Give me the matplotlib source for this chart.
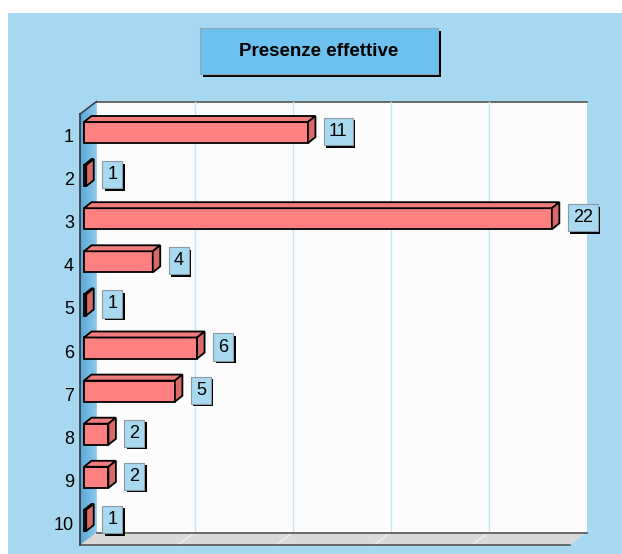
import matplotlib
matplotlib.use('Agg')
import matplotlib.pyplot as plt
from matplotlib.patches import Polygon, Rectangle
import matplotlib.transforms as mtransforms
import numpy as np

categories = ['1', '2', '3', '4', '5', '6', '7', '8', '9', '10']
values = [11, 1, 22, 4, 1, 6, 5, 2, 2, 1]
title = 'Presenze effettive'
x_min, x_max = 0.9, 23.0

plt.rcParams['font.family'] = ['Liberation Sans', 'DejaVu Sans']

W, H = 622, 554
fig = plt.figure(figsize=(W / 100, H / 100), dpi=100)
fig.patch.set_facecolor('white')

bg = fig.add_axes([0, 0, 1, 1])
bg.set_xlim(0, W)
bg.set_ylim(H, 0)
bg.axis('off')

def poly(pts, **kw):
    p = Polygon(pts, closed=True, **kw)
    bg.add_patch(p)
    return p

# outer background
bg.add_patch(Rectangle((8, 13), W - 8, H - 13, facecolor='#a8d8ef', edgecolor='none'))

# 3D frame geometry (front plane / back plane)
FX0, FX1, FY0, FY1 = 80, 570, 114, 545
DX, DY = 16.5, 12.5
BX0, BX1, BY0, BY1 = FX0 + DX, FX1 + DX, FY0 - DY, FY1 - DY

# back wall
poly([(BX0, BY0), (BX1, BY0), (BX1, BY1), (BX0, BY1)], facecolor='#fcfcfc', edgecolor='none')
bg.plot([BX0, BX1], [BY0, BY0], color='#555555', lw=1.2)
# floor
poly([(FX0, FY1), (FX1, FY1), (BX1, BY1), (BX0, BY1)], facecolor='#d9d9d9', edgecolor='none')
# gridlines
for k in range(1, 5):
    gx = BX0 + k * (BX1 - BX0) / 5
    bg.plot([gx, gx], [BY0, BY1], color='#c9e3f2', lw=1)
    bg.plot([gx, gx - DX], [BY1, FY1], color='#eeeeee', lw=1)
bg.plot([BX0, BX1], [BY1, BY1], color='#555555', lw=1.2)
bg.plot([FX0, FX1], [FY1, FY1], color='#555555', lw=1.2)
# left wall with gradient
wall = poly([(FX0, FY0), (BX0, BY0), (BX0, BY1), (FX0, FY1)], facecolor='none', edgecolor='none')
grad = np.linspace(0, 1, 64).reshape(1, -1)
c0 = np.array([0x58, 0xa6, 0xd6]) / 255
c1 = np.array([0x8e, 0xca, 0xeb]) / 255
img = c0[None, None, :] * (1 - grad[..., None]) + c1[None, None, :] * grad[..., None]
im = bg.imshow(img, extent=(FX0, BX0, FY1, BY0), aspect='auto', interpolation='bilinear', zorder=1)
im.set_clip_path(wall)
bg.plot([FX0, FX0], [FY0, FY1], color='#333333', lw=1.2, zorder=2)
bg.plot([FX0, BX0], [FY0, BY0], color='#333333', lw=1.0, zorder=2)
bg.set_xlim(0, W)
bg.set_ylim(H, 0)

# title box
bg.add_patch(Rectangle((203, 31), 238, 46, facecolor='black', edgecolor='none', zorder=2))
bg.add_patch(Rectangle((200, 28), 238, 46, facecolor='#6ec0ee', edgecolor='#8aa9bb', lw=0.8, zorder=2))
bg.text(319, 51, title, ha='center', va='center', fontsize=13.5, fontweight='bold', color='black', zorder=3)

# data axes in the front plane
ax = fig.add_axes([FX0 / W, 1 - FY1 / H, (FX1 - FX0) / W, (FY1 - FY0) / H])
ax.set_facecolor('none')
for s in ax.spines.values():
    s.set_visible(False)

ypos = list(range(1, len(categories) + 1))
sx = (FX1 - FX0) / (x_max - x_min)
sy = (FY1 - FY0) / len(categories)
bh = 0.49
ddx = 7.5 / sx
ddy = -6 / sy

off = mtransforms.ScaledTranslation(4 / 100, 3 / 100, fig.dpi_scale_trans)
tr = ax.transData + off

widths = [v - x_min for v in values]
ax.barh(ypos, widths, left=x_min, height=bh, color='#ff8080', edgecolor='black',
        linewidth=1.3, transform=tr, zorder=3)
for y, v in zip(ypos, values):
    t = y - bh / 2
    b = y + bh / 2
    ax.add_patch(Polygon([(x_min, t), (v, t), (v + ddx, t + ddy), (x_min + ddx, t + ddy)],
                         closed=True, facecolor='#f07c7c', edgecolor='black', lw=1.3,
                         transform=tr, zorder=3))
    ax.add_patch(Polygon([(v, t), (v, b), (v + ddx, b + ddy), (v + ddx, t + ddy)],
                         closed=True, facecolor='#d96a6a', edgecolor='black', lw=1.3,
                         transform=tr, zorder=3))

ax.set_xlim(x_min, x_max)
ax.set_ylim(len(categories) + 0.5, 0.5)
ax.set_xticks([])
ax.set_yticks(ypos)
ax.set_yticklabels(categories, fontsize=13)
ax.tick_params(axis='y', length=0, pad=4.3)

lab_off = mtransforms.ScaledTranslation(25 / 100, 4 / 100, fig.dpi_scale_trans)
labels = []
for y, v in zip(ypos, values):
    labels.append(ax.text(v, y, str(v), ha='left', va='center', fontsize=13, color='black',
                          transform=ax.transData + lab_off, zorder=5,
                          bbox=dict(boxstyle='square,pad=0.28', facecolor='#a9d9f1',
                                    edgecolor='#8a9aa5', lw=0.8)))

# shadows behind label boxes (drawn as patches in pixel space)
fig.canvas.draw()
renderer = fig.canvas.get_renderer()
for t in labels:
    bb = t.get_bbox_patch().get_window_extent(renderer)
    ax.add_patch(Rectangle((bb.x0 + 2.5, bb.y0 - 2.5), bb.x1 - bb.x0, bb.y1 - bb.y0,
                           facecolor='black', edgecolor='none', clip_on=False,
                           transform=mtransforms.IdentityTransform(), zorder=4))

fig.savefig('out.png', dpi=100)
